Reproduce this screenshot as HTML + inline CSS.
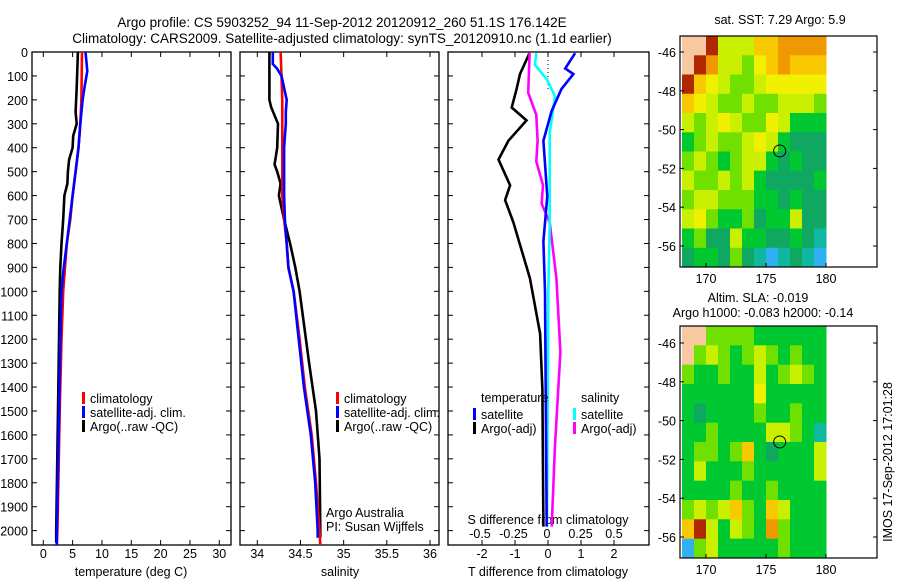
<!DOCTYPE html>
<html><head><meta charset="utf-8">
<style>
html,body{margin:0;padding:0;background:#fff;}
svg{display:block;font-family:"Liberation Sans",sans-serif;}
text{fill:#000;}
</style></head>
<body>
<svg id="fig" width="900" height="580" xmlns="http://www.w3.org/2000/svg">
<text x="342" y="27" font-size="13.5" text-anchor="middle">Argo profile: CS 5903252_94 11-Sep-2012 20120912_260 51.1S 176.142E</text>
<text x="342" y="43" font-size="13.5" text-anchor="middle">Climatology: CARS2009. Satellite-adjusted climatology: synTS_20120910.nc (1.1d earlier)</text>
<g id="plots"></g>
</svg>
<script>
// ---- data ----
const depthTicks = [0,100,200,300,400,500,600,700,800,900,1000,1100,1200,1300,1400,1500,1600,1700,1800,1900,2000];
const tempTicks = [0,5,10,15,20,25,30];
const salTicks = [34,34.5,35,35.5,36];
const salTickLabels = ["34","34.5","35","35.5","36"];
const tdiffTicks = [-2,-1,0,1,2];
const sdiffTicks = [-0.5,-0.25,0,0.25,0.5];
const sdiffTickLabels = ["-0.5","-0.25","0","0.25","0.5"];

const tArgoDepth = [0,150,250,300,350,400,450,500,550,600,700,800,900,1000,1500,2000,2050];
const tArgo      = [5.9,5.7,5.5,5.7,5.1,5.0,4.4,4.2,4.1,3.6,3.4,3.1,2.9,2.8,2.5,2.2,2.2];
const tClimDepth = [0,200,300,400,500,600,700,800,900,1000,1200,1500,2000,2060];
const tClim      = [6.6,6.5,6.3,6.0,5.5,5.0,4.6,4.0,3.7,3.4,3.1,2.8,2.4,2.3];
const tSatDepth  = [0,80,150,200,300,400,500,600,700,800,900,1000,1200,1500,2000,2060];
const tSat       = [7.2,7.5,7.0,6.7,6.3,6.0,5.5,5.0,4.5,4.0,3.5,3.1,2.9,2.7,2.3,2.3];

const sArgoDepth = [0,200,230,300,400,470,500,550,600,650,700,800,900,1000,1300,1500,1700,2000,2030];
const sArgo      = [34.14,34.14,34.16,34.24,34.23,34.20,34.23,34.27,34.25,34.28,34.31,34.38,34.44,34.49,34.60,34.68,34.72,34.73,34.73];
const sClimDepth = [0,100,200,600,700,800,900,1000,1200,1400,1600,1800,2000,2060];
const sClim      = [34.27,34.28,34.29,34.29,34.31,34.34,34.36,34.42,34.49,34.55,34.63,34.68,34.72,34.73];
const sSatDepth  = [0,50,70,100,150,200,250,300,400,600,700,800,900,1000,1200,1400,1600,1800,2000,2030];
const sSat       = [34.18,34.18,34.23,34.28,34.31,34.34,34.33,34.33,34.31,34.31,34.32,34.34,34.36,34.42,34.48,34.54,34.62,34.67,34.70,34.70];

const dTArgoDepth = [5,92,154,232,286,371,449,557,619,712,805,945,1177,1410,1983];
const dTArgo      = [-0.56,-0.85,-0.95,-1.1,-0.65,-1.2,-1.5,-1.15,-1.3,-1.05,-0.85,-0.55,-0.24,-0.17,-0.14];
const dTSatDepth  = [5,69,92,154,247,371,604,790,1000,1983];
const dTSat       = [0.82,0.52,0.77,0.41,0.11,-0.14,-0.02,-0.14,-0.09,-0.04];
const dSSatDepth  = [5,53,115,185,340,712,1000,1983];
const dSSat       = [-0.08,-0.09,0,0.06,0.02,0.02,0.01,0];
const dSArgoDepth = [5,170,263,371,457,557,634,712,945,1254,1642,1983];
const dSArgo      = [-0.13,-0.14,-0.08,-0.07,-0.08,-0.03,-0.04,0.02,0.07,0.1,0.06,0.035];

const mapLonTicks = [170,175,180];
const mapLatTicks = [-46,-48,-50,-52,-54,-56];
// heatmap rows top (north) to bottom, 1-degree cells 168..180E; L = land
const sstRows = [
 "LL9555778888","L98554678777","976544566666","765445445554",
 "545654465333","345445653222","454345532322","544545322223",
 "455444332322","564334233522","342253322321","233242101210"];
const slaRows = [
 "LL4444333333","L45434543433","433433534543","333333633333",
 "323333433433","334333355431","344347323335","353334333335",
 "333343343333","454574375333","795354384333","045333334333"];
const argoLon = 176.142, argoLat = -51.1;

// ---- drawing ----
const NS="http://www.w3.org/2000/svg";
const root=document.getElementById('plots');
function el(tag,attrs,parent){const e=document.createElementNS(NS,tag);for(const k in attrs)e.setAttribute(k,attrs[k]);(parent||root).appendChild(e);return e;}
const Y0=52,Y1=545,DMAX=2060;
function yD(d){return Y0+(Y1-Y0)*d/DMAX;}
function lin(a,b,pa,pb){return v=>pa+(v-a)*(pb-pa)/(b-a);}

function panel(name,x0,x1){
  const g=el('g',{});
  
  
  const r=el('rect',{x:x0,y:Y0,width:x1-x0,height:Y1-Y0,fill:'none',stroke:'#000','stroke-width':1.3},g);
  
  
  depthTicks.forEach(d=>{
    const y=yD(d);
    el('line',{x1:x0,x2:x0+5,y1:y,y2:y,stroke:'#000'},g);
    el('line',{x1:x1-5,x2:x1,y1:y,y2:y,stroke:'#000'},g);
  });
  return g;
}
function xticks(g,ticks,labels,sx,yl,name){
  ticks.forEach((t,i)=>{
    const x=sx(t);
    el('line',{x1:x,x2:x,y1:Y1,y2:Y1-5,stroke:'#000'},g);
    el('line',{x1:x,x2:x,y1:Y0,y2:Y0+5,stroke:'#000'},g);
    const tx=el('text',{x:x,y:yl,'font-size':12.5,'text-anchor':'middle'},g);
    tx.textContent=labels?labels[i]:String(t);
    
    
  });
}
function series(g,vals,depths,sx,color,w,name){
  const pts=vals.map((v,i)=>sx(v).toFixed(1)+','+yD(depths[i]).toFixed(1)).join(' ');
  const p=el('polyline',{points:pts,fill:'none',stroke:color,'stroke-width':w,'stroke-linejoin':'miter'},g);
  
  
}
function legend(g,x,y,items,name){
  items.forEach((it,i)=>{
    const yy=y+i*14;
    el('rect',{x:x,y:yy-6,width:3,height:12,fill:it[0]},g);
    const t=el('text',{x:x+8,y:yy+5,'font-size':12.5},g);
    t.textContent=it[1];
    
    
  });
}
function label(g,x,y,s,name,anchor,size){
  const t=el('text',{x:x,y:y,'font-size':size||12.5,'text-anchor':anchor||'middle'},g);
  t.textContent=s;
  
  
  return t;
}

depthTicks.forEach(d=>{
  const t=el('text',{x:28,y:yD(d)+5,'font-size':12.5,'text-anchor':'end'});
  t.textContent=String(d);
  
  
});

const sxT=lin(0,30,43.3,219.3);
const g1=panel('temperature-panel',32,231);
xticks(g1,tempTicks,null,sxT,558,'temperature');
label(g1,131,576,'temperature (deg C)','temperature-axis-title');
series(g1,tArgo,tArgoDepth,sxT,'#000',2.6,'temp-argo-line');
series(g1,tClim,tClimDepth,sxT,'#f00',2.6,'temp-climatology-line');
series(g1,tSat,tSatDepth,sxT,'#00f',2.6,'temp-satellite-line');
legend(g1,82,398,[['#f00','climatology'],['#00f','satellite-adj. clim.'],['#000','Argo(..raw -QC)']],'temp-legend');

const sxS=lin(34,36,257.3,430);
const g2=panel('salinity-panel',240,439);
xticks(g2,salTicks,salTickLabels,sxS,558,'salinity');
label(g2,340,576,'salinity','salinity-axis-title');
series(g2,sArgo,sArgoDepth,sxS,'#000',2.6,'sal-argo-line');
series(g2,sClim,sClimDepth,sxS,'#f00',2.6,'sal-climatology-line');
series(g2,sSat,sSatDepth,sxS,'#00f',2.6,'sal-satellite-line');
legend(g2,336,398,[['#f00','climatology'],['#00f','satellite-adj. clim.'],['#000','Argo(..raw -QC)']],'sal-legend');
label(g2,326,517,'Argo Australia','argo-australia-note','start');
label(g2,326,531,'PI: Susan Wijffels','pi-note','start');

const sxdT=lin(0,2,548,614);
const sxdS=lin(0,0.5,547,614);
const g3=panel('difference-panel',448,649);
xticks(g3,tdiffTicks,null,sxdT,558,'tdiff');
label(g3,548,576,'T difference from climatology','tdiff-axis-title');
sdiffTicks.forEach((t,i)=>{
  const tx=el('text',{x:sxdS(t),y:538,'font-size':12.5,'text-anchor':'middle'},g3);
  tx.textContent=sdiffTickLabels[i];
  
  
});
label(g3,548,524,'S difference from climatology','sdiff-axis-title');
el('line',{x1:sxdT(0),x2:sxdT(0),y1:Y0,y2:yD(160),stroke:'#000','stroke-dasharray':'1,3'},g3);
series(g3,dTArgo,dTArgoDepth,sxdT,'#000',2.6,'tdiff-argo-line');
series(g3,dSArgo,dSArgoDepth,sxdS,'#f0f',2.6,'sdiff-argo-line');
series(g3,dSSat,dSSatDepth,sxdS,'#0ff',2.6,'sdiff-satellite-line');
series(g3,dTSat,dTSatDepth,sxdT,'#00f',2.6,'tdiff-satellite-line');
label(g3,481,402,'temperature','tdiff-legend-title','start');
legend(g3,473,414,[['#00f','satellite'],['#000','Argo(-adj)']],'tdiff-legend');
label(g3,581,402,'salinity','sdiff-legend-title','start');
legend(g3,573,414,[['#0ff','satellite'],['#f0f','Argo(-adj)']],'sdiff-legend');

// maps
const cmap={"0":"#30b0f0","1":"#10b8a0","2":"#10a860","3":"#00c830","4":"#70e000","5":"#c8f000","6":"#f0f000","7":"#f8c800","8":"#f09800","9":"#b02800","L":"#f8c8a0"};
function map(name,top,bottom,lat46y,rows,titles){
  const g=el('g',{});
  
  
  const x0=680,x1=877;
  const sx=lin(170,180,706,826);
  const sy=lin(-46,-56,lat46y,lat46y+194);
  const topLat=-46+(lat46y-top)/19.4, botLat=-46-(bottom-lat46y)/19.4;
  rows.forEach((row,r)=>{
    for(let c=0;c<row.length;c++){
      const la=topLat - r*(topLat-botLat)/rows.length;
      const lb=topLat - (r+1)*(topLat-botLat)/rows.length;
      const xa=Math.max(sx(168+c),x0), xb=sx(169+c);
      const cell=el('rect',{x:xa.toFixed(1),y:sy(la).toFixed(1),width:(xb-xa+0.5).toFixed(1),height:(sy(lb)-sy(la)+0.5).toFixed(1),fill:cmap[row[c]]},g);
      
      
    }
  });
  const c=el('circle',{cx:sx(argoLon),cy:sy(argoLat),r:6,fill:'none',stroke:'#000','stroke-width':1},g);
  
  
  const fr=el('rect',{x:x0,y:top,width:x1-x0,height:bottom-top,fill:'none',stroke:'#000','stroke-width':1.2},g);
  
  
  mapLonTicks.forEach(l=>{
    el('line',{x1:sx(l),x2:sx(l),y1:bottom,y2:bottom-4,stroke:'#000'},g);
    label(g,sx(l),bottom+16,String(l),'map-lon-tick-label');
  });
  mapLatTicks.forEach(l=>{
    el('line',{x1:x0,x2:x0+4,y1:sy(l),y2:sy(l),stroke:'#000'},g);
    el('line',{x1:x1-4,x2:x1,y1:sy(l),y2:sy(l),stroke:'#000'},g);
    label(g,676,sy(l)+5,String(l),'map-lat-tick-label','end');
  });
  titles.forEach((t,i)=>label(g,t[0],t[1],t[2],name+'-title-'+(i+1)));
}
map('sst-map',36,267,52,sstRows,[[780,24,'sat. SST: 7.29 Argo: 5.9']]);
map('sla-map',326,558,343,slaRows,[[758,302,'Altim. SLA: -0.019'],[763,317,'Argo h1000: -0.083 h2000: -0.14']]);

const ts=el('text',{x:0,y:0,'font-size':12.5,'text-anchor':'middle',transform:'translate(892,462) rotate(-90)'});
ts.textContent='IMOS 17-Sep-2012 17:01:28';


</script>
</body></html>
